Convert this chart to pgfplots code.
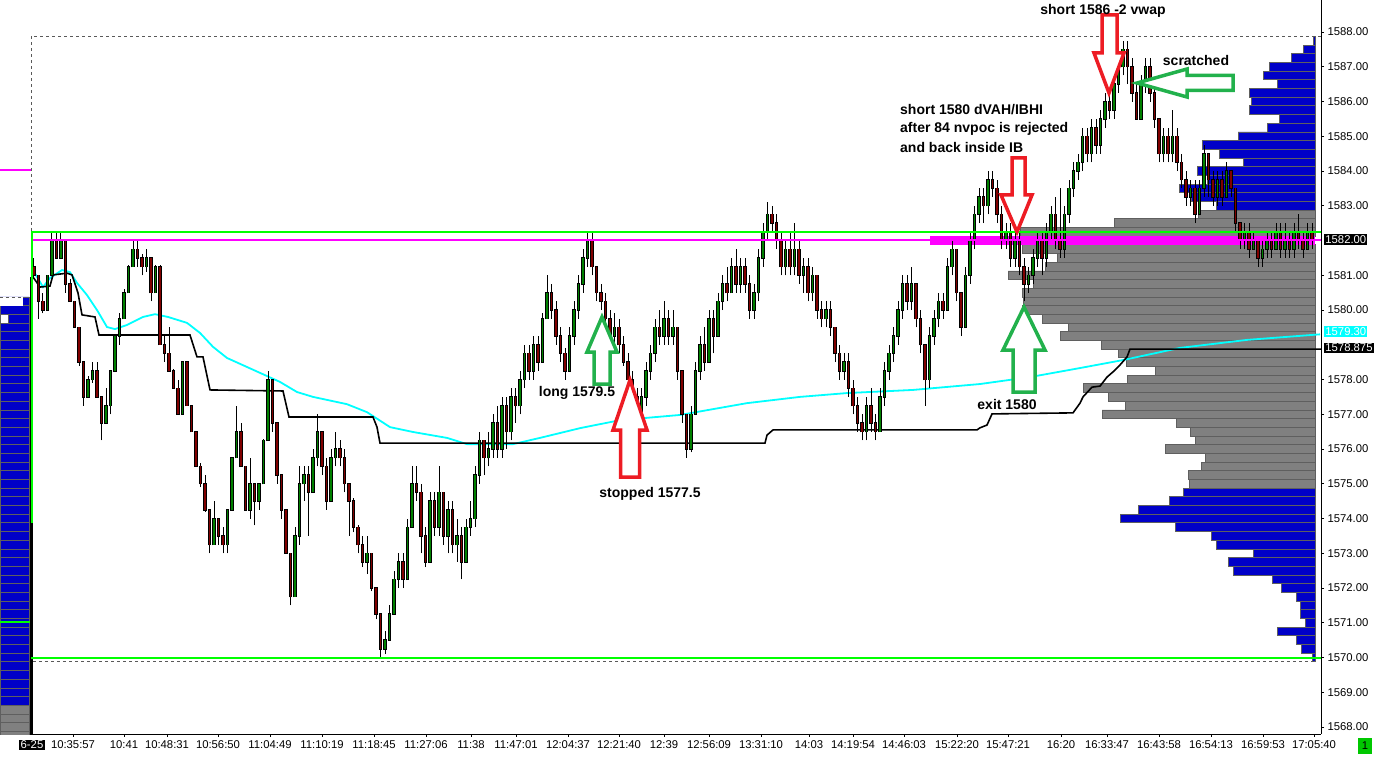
\documentclass[border=0pt]{standalone}
\usepackage{pgfplots}
\pgfplotsset{compat=1.18}
\usepackage{pgfplotstable}
\usepackage{fontspec}
\setmainfont{Liberation Sans}
\definecolor{cgreen}{RGB}{0,128,0}
\definecolor{cred}{RGB}{128,0,0}
\definecolor{pblue}{RGB}{0,0,200}
\definecolor{pgray}{RGB}{128,128,128}
\definecolor{pedge}{RGB}{95,95,95}
\definecolor{lgreen}{RGB}{0,255,0}
\definecolor{lmag}{RGB}{255,0,255}
\definecolor{lcyan}{RGB}{0,255,255}
\definecolor{ared}{RGB}{237,28,36}
\definecolor{agreen}{RGB}{34,177,76}
\definecolor{boxgreen}{RGB}{0,200,0}
\newcommand{\tickfont}{\fontsize{11.3}{12.5}\selectfont}
\newcommand{\annfont}{\fontsize{14}{16}\selectfont\bfseries}

\pgfplotstableread{
x o h l c
34 1581.25 1581.5 1580.9 1581.0
38.5 1581.0 1581.0 1579.75 1580.25
43 1580.25 1580.5 1579.9 1580.0
47.5 1580.0 1581.0 1580.0 1581.0
52 1581.0 1582.25 1581.0 1582.0
56.5 1582.0 1582.25 1581.5 1581.5
61 1581.5 1582.25 1581.5 1582.0
65.5 1582.0 1582.0 1580.5 1580.75
70 1580.75 1580.9 1580.25 1580.25
74.5 1580.25 1580.25 1579.5 1579.5
79 1579.5 1579.5 1578.4 1578.5
83.5 1578.5 1578.5 1577.25 1577.5
88 1577.5 1578.1 1577.5 1578.0
92.5 1578.0 1578.5 1577.9 1578.25
97 1578.25 1578.5 1577.5 1577.5
101.5 1577.5 1577.5 1576.25 1576.75
106 1576.75 1577.75 1576.75 1577.25
110.5 1577.25 1578.25 1577.0 1578.25
115 1578.25 1579.25 1578.25 1579.25
119.5 1579.25 1579.9 1579.0 1579.75
124 1579.75 1580.6 1579.75 1580.5
128.5 1580.5 1581.3 1580.5 1581.25
133 1581.25 1582.0 1581.25 1581.75
137.5 1581.75 1582.0 1581.25 1581.5
142 1581.5 1581.6 1581.0 1581.25
146.5 1581.25 1581.75 1581.1 1581.5
151 1581.5 1581.5 1580.25 1580.5
155.5 1580.5 1581.3 1580.5 1581.25
160 1581.25 1581.3 1579.0 1579.0
164.5 1579.0 1579.3 1578.5 1578.75
169 1578.75 1579.5 1578.25 1578.25
173.5 1578.25 1578.3 1577.75 1577.75
178 1577.75 1578.0 1577.0 1577.0
182.5 1577.0 1578.5 1577.0 1578.5
187 1578.5 1578.5 1577.25 1577.25
191.5 1577.25 1577.25 1576.5 1576.5
196 1576.5 1576.5 1575.5 1575.5
200.5 1575.5 1575.6 1574.9 1575.0
205 1575.0 1575.25 1574.2 1574.25
209.5 1574.25 1574.25 1573.0 1573.25
214 1573.25 1574.5 1573.25 1574.0
218.5 1574.0 1574.0 1573.25 1573.5
223 1573.5 1573.75 1573.0 1573.25
227.5 1573.25 1574.25 1573.0 1574.25
232 1574.25 1575.75 1574.25 1575.75
236.5 1575.75 1577.25 1575.75 1576.5
241 1576.5 1576.75 1575.5 1575.5
245.5 1575.5 1575.5 1574.25 1574.25
250 1574.25 1575.75 1574.0 1575.0
254.5 1575.0 1575.0 1573.8 1574.5
259 1574.5 1575.0 1574.25 1575.0
263.5 1575.0 1576.3 1575.0 1576.25
268 1576.25 1578.25 1576.25 1578.0
272.5 1578.0 1578.0 1576.5 1576.75
277 1576.75 1576.75 1575.0 1575.25
281.5 1575.25 1575.25 1574.0 1574.25
286 1574.25 1574.25 1573.0 1573.0
290.5 1573.0 1573.0 1571.5 1571.75
295 1571.75 1573.75 1571.75 1573.5
299.5 1573.5 1575.5 1573.25 1575.0
304 1575.0 1575.5 1574.5 1575.25
308.5 1575.25 1575.5 1573.5 1574.75
313 1574.75 1576.0 1574.75 1575.75
317.5 1575.75 1577.0 1575.5 1576.5
322 1576.5 1576.5 1575.25 1575.5
326.5 1575.5 1575.75 1574.25 1574.5
331 1574.5 1576.0 1574.5 1575.75
335.5 1575.75 1576.5 1575.5 1576.0
340 1576.0 1576.25 1575.5 1575.75
344.5 1575.75 1576.0 1574.75 1575.0
349 1575.0 1575.0 1573.5 1574.5
353.5 1574.5 1574.6 1573.6 1573.75
358 1573.75 1573.8 1573.0 1573.25
362.5 1573.25 1573.5 1572.6 1572.75
367 1572.75 1573.5 1572.4 1573.0
371.5 1573.0 1573.0 1571.9 1572.0
376 1572.0 1572.0 1571.1 1571.25
380.5 1571.25 1571.25 1570.0 1570.25
385 1570.25 1570.75 1570.1 1570.5
389.5 1570.5 1571.5 1570.5 1571.25
394 1571.25 1572.5 1571.25 1572.25
398.5 1572.25 1573.0 1572.0 1572.75
403 1572.75 1573.0 1572.0 1572.25
407.5 1572.25 1574.0 1572.25 1573.75
412 1573.75 1575.5 1573.75 1575.0
416.5 1575.0 1575.5 1574.5 1574.75
421 1574.75 1575.0 1573.0 1573.5
425.5 1573.5 1573.75 1572.6 1572.75
430 1572.75 1574.75 1572.75 1574.5
434.5 1574.5 1574.75 1573.5 1573.75
439 1573.75 1575.5 1573.5 1574.75
443.5 1574.75 1574.75 1573.25 1573.5
448 1573.5 1574.5 1573.0 1574.25
452.5 1574.25 1574.5 1573.0 1573.25
457 1573.25 1574.0 1572.75 1573.5
461.5 1573.5 1573.75 1572.25 1572.75
466 1572.75 1574.0 1572.75 1573.75
470.5 1573.75 1574.5 1573.5 1574.0
475 1574.0 1575.5 1573.75 1575.25
479.5 1575.25 1576.5 1575.0 1576.25
484 1576.25 1576.25 1575.25 1575.75
488.5 1575.75 1576.5 1575.5 1576.0
493 1576.0 1577.0 1575.75 1576.75
497.5 1576.75 1577.25 1575.75 1576.0
502 1576.0 1577.5 1575.75 1577.25
506.5 1577.25 1577.5 1576.0 1576.5
511 1576.5 1577.75 1576.25 1577.5
515.5 1577.5 1577.75 1576.75 1577.25
520 1577.25 1578.25 1577.0 1578.0
524.5 1578.0 1579.0 1577.75 1578.75
529 1578.75 1579.0 1578.0 1578.25
533.5 1578.25 1579.25 1578.0 1579.0
538 1579.0 1579.25 1578.25 1578.5
542.5 1578.5 1579.9 1578.5 1579.75
547 1579.75 1581.0 1579.75 1580.5
551.5 1580.5 1580.75 1579.75 1580.0
556 1580.0 1580.25 1579.0 1579.25
560.5 1579.25 1579.5 1578.5 1578.75
565 1578.75 1578.9 1578.0 1578.25
569.5 1578.25 1579.5 1578.25 1579.25
574 1579.25 1580.25 1579.0 1580.0
578.5 1580.0 1581.0 1579.75 1580.75
583 1580.75 1581.75 1580.5 1581.5
587.5 1581.5 1582.25 1581.25 1582.0
592 1582.0 1582.25 1581.0 1581.25
596.5 1581.25 1581.25 1580.25 1580.5
601 1580.5 1580.75 1580.0 1580.25
605.5 1580.25 1580.5 1579.5 1579.75
610 1579.75 1580.0 1579.0 1579.25
614.5 1579.25 1579.9 1579.0 1579.5
619 1579.5 1579.75 1578.75 1579.0
623.5 1579.0 1579.25 1578.4 1578.5
628 1578.5 1578.75 1577.75 1578.0
632.5 1578.0 1578.25 1577.25 1577.5
637 1577.5 1577.75 1576.75 1577.0
641.5 1577.0 1577.75 1576.75 1577.5
646 1577.5 1578.5 1577.25 1578.25
650.5 1578.25 1579.0 1578.0 1578.75
655 1578.75 1579.75 1578.5 1579.5
659.5 1579.5 1580.0 1579.0 1579.25
664 1579.25 1580.25 1579.0 1579.75
668.5 1579.75 1580.0 1579.0 1579.25
673 1579.25 1580.0 1579.0 1579.5
677.5 1579.5 1579.5 1578.0 1578.25
682 1578.25 1578.25 1576.75 1577.0
686.5 1577.0 1577.0 1575.75 1576.0
691 1576.0 1577.25 1575.9 1577.0
695.5 1577.0 1578.5 1577.0 1578.25
700 1578.25 1579.25 1578.0 1579.0
704.5 1579.0 1579.5 1578.25 1578.5
709 1578.5 1580.0 1578.5 1579.75
713.5 1579.75 1580.0 1578.75 1579.25
718 1579.25 1580.5 1579.25 1580.25
722.5 1580.25 1581.0 1580.0 1580.75
727 1580.75 1581.25 1580.25 1580.5
731.5 1580.5 1581.5 1580.5 1581.25
736 1581.25 1581.75 1580.5 1580.75
740.5 1580.75 1581.5 1580.5 1581.25
745 1581.25 1581.5 1580.5 1580.75
749.5 1580.75 1581.0 1579.75 1580.0
754 1580.0 1580.75 1579.75 1580.5
758.5 1580.5 1581.75 1580.25 1581.5
763 1581.5 1582.5 1581.25 1582.25
767.5 1582.25 1583.1 1582.0 1582.75
772 1582.75 1583.0 1582.25 1582.5
776.5 1582.5 1582.75 1581.75 1582.0
781 1582.0 1582.25 1581.0 1581.25
785.5 1581.25 1582.0 1581.0 1581.75
790 1581.75 1582.25 1581.0 1581.25
794.5 1581.25 1582.5 1581.0 1581.75
799 1581.75 1582.0 1580.75 1581.0
803.5 1581.0 1581.5 1580.5 1581.25
808 1581.25 1581.5 1580.25 1580.5
812.5 1580.5 1581.25 1580.25 1581.0
817 1581.0 1581.0 1579.75 1580.0
821.5 1580.0 1580.25 1579.5 1579.75
826 1579.75 1580.25 1579.5 1580.0
830.5 1580.0 1580.25 1579.25 1579.5
835 1579.5 1579.5 1578.5 1578.75
839.5 1578.75 1579.0 1578.0 1578.25
844 1578.25 1578.75 1578.0 1578.5
848.5 1578.5 1578.75 1577.5 1577.75
853 1577.75 1578.0 1577.0 1577.25
857.5 1577.25 1577.5 1576.5 1576.75
862 1576.75 1577.0 1576.25 1576.5
866.5 1576.5 1577.5 1576.25 1577.25
871 1577.25 1577.75 1576.5 1576.75
875.5 1576.75 1577.0 1576.25 1576.5
880 1576.5 1577.75 1576.5 1577.5
884.5 1577.5 1578.5 1577.25 1578.25
889 1578.25 1579.0 1578.0 1578.75
893.5 1578.75 1579.5 1578.5 1579.25
898 1579.25 1580.25 1579.0 1580.0
902.5 1580.0 1581.0 1579.75 1580.75
907 1580.75 1581.0 1580.0 1580.25
911.5 1580.25 1581.25 1580.0 1580.75
916 1580.75 1580.75 1579.5 1579.75
920.5 1579.75 1580.0 1578.75 1579.0
925 1579.0 1579.0 1577.25 1578.0
929.5 1578.0 1579.5 1577.75 1579.25
934 1579.25 1580.0 1579.0 1579.75
938.5 1579.75 1580.5 1579.5 1580.25
943 1580.25 1580.5 1579.75 1580.0
947.5 1580.0 1581.5 1580.0 1581.25
952 1581.25 1582.0 1581.0 1581.75
956.5 1581.75 1581.75 1580.25 1580.5
961 1580.5 1580.5 1579.25 1579.5
965.5 1579.5 1581.25 1579.5 1581.0
970 1581.0 1582.25 1580.75 1582.0
974.5 1582.0 1583.0 1581.75 1582.75
979 1582.75 1583.5 1582.5 1583.25
983.5 1583.25 1583.5 1582.5 1583.0
988 1583.0 1584.0 1582.75 1583.75
992.5 1583.75 1584.0 1583.25 1583.5
997 1583.5 1583.75 1582.5 1582.75
1001.5 1582.75 1583.0 1581.75 1582.0
1006 1582.0 1582.5 1581.75 1582.25
1010.5 1582.25 1582.5 1581.25 1581.5
1015 1581.5 1582.25 1581.25 1582.0
1019.5 1582.0 1582.25 1581.0 1581.25
1024 1581.25 1581.5 1580.25 1580.75
1028.5 1580.75 1581.25 1580.5 1581.0
1033 1581.0 1581.75 1580.75 1581.5
1037.5 1581.5 1582.25 1581.25 1582.0
1042 1582.0 1582.25 1581.0 1581.5
1046.5 1581.5 1582.5 1581.25 1582.25
1051 1582.25 1583.0 1582.0 1582.75
1055.5 1582.75 1583.25 1581.75 1582.0
1060 1582.0 1583.5 1581.5 1581.75
1064.5 1581.75 1583.0 1581.5 1582.75
1069 1582.75 1583.75 1582.5 1583.5
1073.5 1583.5 1584.25 1583.25 1584.0
1078 1584.0 1584.5 1583.75 1584.25
1082.5 1584.25 1585.25 1584.0 1585.0
1087 1585.0 1585.25 1584.25 1584.5
1091.5 1584.5 1585.5 1584.25 1585.25
1096 1585.25 1585.5 1584.5 1584.75
1100.5 1584.75 1585.75 1584.5 1585.5
1105 1585.5 1586.25 1585.25 1586.0
1109.5 1586.0 1586.25 1585.5 1585.75
1114 1585.75 1586.75 1585.5 1586.5
1118.5 1586.5 1587.25 1586.25 1587.0
1123 1587.0 1587.75 1586.75 1587.5
1127.5 1587.5 1587.75 1586.5 1587.0
1132 1587.0 1587.25 1586.0 1586.25
1136.5 1586.25 1586.5 1585.5 1585.5
1141 1585.5 1586.75 1585.5 1586.5
1145.5 1586.5 1587.25 1586.25 1587.0
1150 1587.0 1587.25 1586.0 1586.25
1154.5 1586.25 1586.5 1585.25 1585.5
1159 1585.5 1585.5 1584.25 1584.5
1163.5 1584.5 1585.25 1584.25 1585.0
1168 1585.0 1585.25 1584.25 1584.5
1172.5 1584.5 1585.75 1584.25 1585.0
1177 1585.0 1585.25 1584.0 1584.25
1181.5 1584.25 1584.5 1583.5 1583.75
1186 1583.75 1584.0 1583.0 1583.25
1190.5 1583.25 1583.75 1583.0 1583.5
1195 1583.5 1583.75 1582.5 1582.75
1199.5 1582.75 1583.75 1582.75 1583.5
1204 1583.5 1584.75 1583.25 1584.5
1208.5 1584.5 1584.5 1583.25 1583.75
1213 1583.75 1584.0 1583.0 1583.25
1217.5 1583.25 1584.0 1583.0 1583.75
1222 1583.75 1584.0 1583.0 1583.25
1226.5 1583.25 1584.25 1583.25 1584.0
1231 1584.0 1584.0 1583.25 1583.5
1235.5 1583.5 1583.5 1582.25 1582.5
1240 1582.5 1582.5 1581.75 1582.0
1244.5 1582.0 1582.5 1581.75 1582.25
1249 1582.25 1582.5 1581.5 1581.75
1253.5 1581.75 1582.25 1581.75 1582.0
1258 1582.0 1582.0 1581.25 1581.5
1262.5 1581.5 1582.0 1581.25 1581.75
1267 1581.75 1582.25 1581.5 1582.0
1271.5 1582.0 1582.25 1581.5 1581.75
1276 1581.75 1582.5 1581.75 1582.25
1280.5 1582.25 1582.5 1581.5 1581.75
1285 1581.75 1582.5 1581.5 1582.0
1289.5 1582.0 1582.25 1581.5 1581.75
1294 1581.75 1582.5 1581.5 1582.25
1298.5 1582.25 1582.75 1581.75 1582.0
1303 1582.0 1582.25 1581.5 1581.75
1307.5 1581.75 1582.5 1581.75 1582.25
1312 1582.25 1582.5 1581.75 1582.0
}\candles

\begin{document}
\begin{tikzpicture}
\path[use as bounding box] (0pt,-22pt) rectangle (1375pt,734pt);

% ---------- volume profile (bars grow leftwards from the right edge) ----------
\begin{axis}[at={(0pt,0pt)}, anchor=south west, width=1321pt, height=734pt,
  scale only axis, hide axis, x dir=reverse, xmin=-6, xmax=1315,
  ymin=1567.799, ymax=1588.921]
\addplot[xbar, bar width=0.25, bar shift=0pt, fill=pblue, draw=pedge, line width=0.8pt]
coordinates {(3,1570) (14,1570.25) (19,1570.5) (38,1570.75) (10,1571) (15,1571.25) (15,1571.5) (19,1571.75) (34,1572) (43,1572.25) (82,1572.5) (87,1572.75) (62,1573) (99,1573.25) (104,1573.5) (140,1573.75) (195,1574) (177,1574.25) (146,1574.5) (132,1574.75)};
\addplot[xbar, bar width=0.25, bar shift=0pt, fill=pblue, draw=pedge, line width=0.8pt]
coordinates {(99,1583) (124,1583.25) (136,1583.5) (108,1583.75) (118,1584) (72,1584.25) (96,1584.5) (113,1584.75) (77,1585) (48,1585.25) (36,1585.5) (66,1585.75) (64,1586) (66,1586.25) (38,1586.5) (52,1586.75) (46,1587) (24,1587.25) (12,1587.5) (2,1587.75)};
\addplot[xbar, bar width=0.25, bar shift=0pt, fill=pgray, draw=pedge, line width=0.8pt]
coordinates {(126,1575) (127,1575.25) (114,1575.5) (110,1575.75) (150,1576) (120,1576.25) (125,1576.5) (139,1576.75) (213,1577) (190,1577.25) (207,1577.5) (232,1577.75) (188,1578) (160,1578.25) (189,1578.5) (197,1578.75) (214,1579) (255,1579.25) (247,1579.5) (273,1579.75) (293,1580) (292,1580.25) (293,1580.5) (282,1580.75) (307,1581) (270,1581.25) (258,1581.5) (293,1581.75) (295,1582.25) (201,1582.5) (117,1582.75)};
\addplot[xbar, bar width=0.25, bar shift=0pt, fill=lmag, draw=none]
coordinates {(385,1582)};
\end{axis}

% ---------- price pane ----------
\begin{axis}[at={(0pt,0pt)}, anchor=south west, width=1321pt, height=734pt,
  scale only axis, xmin=0, xmax=1321, ymin=1567.799, ymax=1588.921,
  axis x line*=bottom, axis y line*=right,
  axis line style={-, black, line width=0.8pt},
  tick align=outside, major tick length=3pt, tick style={black, line width=0.6pt},
  ytick={1568,1569,...,1578,1580,1581,1583,1584,...,1588}, scaled y ticks=false,
  /pgf/number format/assume math mode=true,
  ticklabel style={font=\tickfont},
  yticklabel style={/pgf/number format/.cd, fixed, fixed zerofill, precision=2, 1000 sep={}},
  xtick={73,124,167,218,270,322,374,426,471,516,568,619,664,709,761,809,853,904,957,1008,1061,1107,1159,1211,1263,1314},
  xticklabels={10:35:57,10:41,10:48:31,10:56:50,11:04:49,11:10:19,11:18:45,11:27:06,11:38,11:47:01,12:04:37,12:21:40,12:39,12:56:09,13:31:10,14:03,14:19:54,14:46:03,15:22:20,15:47:21,16:20,16:33:47,16:43:58,16:54:13,16:59:53,17:05:40}]

% previous-day profile strip on the left
\addplot[xbar, bar width=0.25, bar shift=0pt, fill=pblue, draw=pedge, line width=0.8pt]
coordinates {(29.5,1568.75) (29.5,1569) (29.5,1569.25) (29.5,1569.5) (29.5,1569.75) (29.5,1570) (29.5,1570.25) (29.5,1570.5) (29.5,1570.75) (29.5,1571) (29.5,1571.25) (29.5,1571.5) (29.5,1571.75) (29.5,1572) (29.5,1572.25) (29.5,1572.5) (29.5,1572.75) (29.5,1573) (29.5,1573.25) (29.5,1573.5) (29.5,1573.75) (29.5,1574) (29.5,1574.25) (29.5,1574.5) (29.5,1574.75) (29.5,1575) (29.5,1575.25) (29.5,1575.5) (29.5,1575.75) (29.5,1576) (29.5,1576.25) (29.5,1576.5) (29.5,1576.75) (29.5,1577) (29.5,1577.25) (29.5,1577.5) (29.5,1577.75) (29.5,1578) (29.5,1578.25) (29.5,1578.5) (29.5,1578.75) (29.5,1579) (29.5,1579.25) (29.5,1579.5) (29.5,1579.75) (29.5,1580) (29.5,1580.25)};
\addplot[xbar, bar width=0.25, bar shift=0pt, fill=pgray, draw=pedge, line width=0.8pt]
coordinates {(29.5,1567.75) (29.5,1568) (29.5,1568.25) (29.5,1568.5)};
\addplot[xbar, bar width=0.27, bar shift=0pt, fill=white, draw=none]
coordinates {(22.7,1580.25)};
\addplot[xbar, bar width=0.25, bar shift=0pt, fill=white, draw=pedge, line width=0.8pt]
coordinates {(8,1579.75)};
\addplot[lmag, line width=2pt] coordinates {(0,1584.03) (31,1584.03)};
\addplot[lgreen, line width=2pt] coordinates {(0,1571.02) (31,1571.02)};
\addplot[black!65, line width=0.8pt, dash pattern=on 3pt off 3pt] coordinates {(0,1580.37) (22,1580.37)};

% dashed frame
\addplot[black!65, line width=0.8pt, dash pattern=on 3pt off 3pt] coordinates {(31,1582.28) (31,1587.885) (1321,1587.885)};
\addplot[black!65, line width=0.8pt, dash pattern=on 3pt off 3pt] coordinates {(33,1569.90) (1315,1569.90)};

% black vertical separator
\addplot[black, line width=2.2pt] coordinates {(31.5,1580.95) (31.5,1567.799)};

% VWAP (cyan)
\addplot[lcyan, line width=1.8pt] coordinates {
(33,1581.15) (43,1580.66) (50,1580.92) (62,1581.15) (70,1581.09) (77,1580.78) (87,1580.43) (97,1580.0) (107,1579.51) (115,1579.45) (127,1579.57) (143,1579.80) (155,1579.88) (168,1579.80) (187,1579.63) (200,1579.34) (213,1578.94) (227,1578.62) (247,1578.36) (267,1578.10) (280,1577.93) (297,1577.64) (313,1577.50) (347,1577.29) (367,1577.06) (390,1576.63) (413,1576.49) (447,1576.32) (467,1576.14) (513,1576.14) (540,1576.32) (580,1576.60) (620,1576.83) (680,1576.98) (747,1577.32) (800,1577.50) (847,1577.61) (913,1577.70) (980,1577.87) (1030,1578.07) (1080,1578.33) (1123,1578.56) (1180,1578.91) (1247,1579.14) (1320,1579.30)};

% developing line (black steps)
\addplot[black, line width=1.6pt] coordinates {
(33,1580.95) (40,1580.66) (50,1580.69) (53,1581.01) (67,1581.06) (72,1581.01) (78,1580.49) (82,1579.86) (95,1579.80) (99,1579.28) (190,1579.28) (197,1578.65) (203,1578.65) (210,1577.70) (283,1577.67) (289,1576.92) (373,1576.92) (377,1576.63) (380,1576.17) (765,1576.17) (767,1576.40) (773,1576.55) (977,1576.55) (980,1576.61) (987,1576.69) (992,1577.01) (1073,1577.04) (1080,1577.32) (1083,1577.50) (1092,1577.78) (1100,1577.81) (1107,1578.07) (1113,1578.22) (1120,1578.42) (1127,1578.65) (1130,1578.875) (1321,1578.875)};

% candles: wicks
\addplot[draw=none, mark=none, error bars/.cd, y dir=plus, y explicit, error mark=none,
  error bar style={draw=black, line width=1pt}]
  table[x=x, y=l, y error plus expr={\thisrow{h}-\thisrow{l}}] {\candles};
% candles: body outline
\addplot[draw=none, mark=none, error bars/.cd, y dir=plus, y explicit, error mark=none,
  error bar style={draw=black, line width=3.5pt}]
  table[x=x, y expr={min(\thisrow{o},\thisrow{c})-0.02}, y error plus expr={abs(\thisrow{c}-\thisrow{o})+0.04}] {\candles};
% candles: down bodies
\addplot[draw=none, mark=none, error bars/.cd, y dir=plus, y explicit, error mark=none,
  error bar style={draw=cred, line width=1.6pt}]
  table[x=x, y=c, y error plus expr={max(\thisrow{o}-\thisrow{c},0)}] {\candles};
% candles: up bodies
\addplot[draw=none, mark=none, error bars/.cd, y dir=plus, y explicit, error mark=none,
  error bar style={draw=cgreen, line width=1.6pt}]
  table[x=x, y=o, y error plus expr={max(\thisrow{c}-\thisrow{o},0)}] {\candles};

% IB / level lines
\addplot[lgreen, line width=2pt] coordinates {(32,1573.87) (32,1582.25) (1321,1582.25)};
\addplot[lgreen, line width=2pt] coordinates {(31,1570) (1321,1570)};
\addplot[lmag, line width=2pt] coordinates {(33,1582.02) (1321,1582.02)};
\end{axis}

% ---------- annotations (pixel coordinates) ----------
\begin{scope}[x=1pt, y=-1pt, yshift=734pt]
\begin{scope}[line width=3.5pt, fill=white, line join=miter]
\filldraw[draw=agreen] (602,317) -- (617,352) -- (610,352) -- (610,384) -- (594,384) -- (594,352) -- (587,352) -- cycle;
\filldraw[draw=ared] (630,380) -- (647,430) -- (639.5,430) -- (639.5,477) -- (620.5,477) -- (620.5,430) -- (613,430) -- cycle;
\filldraw[draw=ared] (1012,158) -- (1025,158) -- (1025,195) -- (1032,195) -- (1017,232) -- (1001,195) -- (1012,195) -- cycle;
\filldraw[draw=agreen] (1024,307) -- (1045,350) -- (1035,350) -- (1035,392) -- (1013,392) -- (1013,350) -- (1003,350) -- cycle;
\filldraw[draw=ared] (1102,15) -- (1117,15) -- (1117,53) -- (1124,53) -- (1109,93) -- (1094,53) -- (1102,53) -- cycle;
\filldraw[draw=agreen] (1137,83) -- (1187,69) -- (1187,75.5) -- (1233,75.5) -- (1233,90.5) -- (1187,90.5) -- (1187,97) -- cycle;
\end{scope}
\node[font=\annfont] at (1103,11) {short 1586 -2 vwap};
\node[font=\annfont] at (1196,61) {scratched};
\node[font=\annfont, anchor=west, inner sep=0pt] at (900,110) {short 1580 dVAH/IBHI};
\node[font=\annfont, anchor=west, inner sep=0pt] at (900,128.5) {after 84 nvpoc is rejected};
\node[font=\annfont, anchor=west, inner sep=0pt] at (900,147) {and back inside IB};
\node[font=\annfont] at (577,393) {long 1579.5};
\node[font=\annfont] at (650,494) {stopped 1577.5};
\node[font=\annfont] at (1007,404) {exit 1580};
% price flags on the right
\node[font=\tickfont, fill=black, text=white, inner sep=1.2pt, anchor=west] at (1324,239.5) {1582.00};
\node[font=\tickfont, fill=lcyan, text=white, inner sep=1.2pt, anchor=west] at (1324,331.5) {1579.30};
\node[font=\tickfont, fill=black, text=white, inner sep=1.2pt, anchor=west] at (1324,348) {1578.875};
% bottom flags
\node[font=\tickfont, fill=black, text=white, inner sep=1.2pt] at (32,745) {6-25};
\node[font=\tickfont, fill=boxgreen, text=black, minimum width=14pt, minimum height=16pt, inner sep=0pt] at (1365,746) {1};
\end{scope}
\end{tikzpicture}
\end{document}
